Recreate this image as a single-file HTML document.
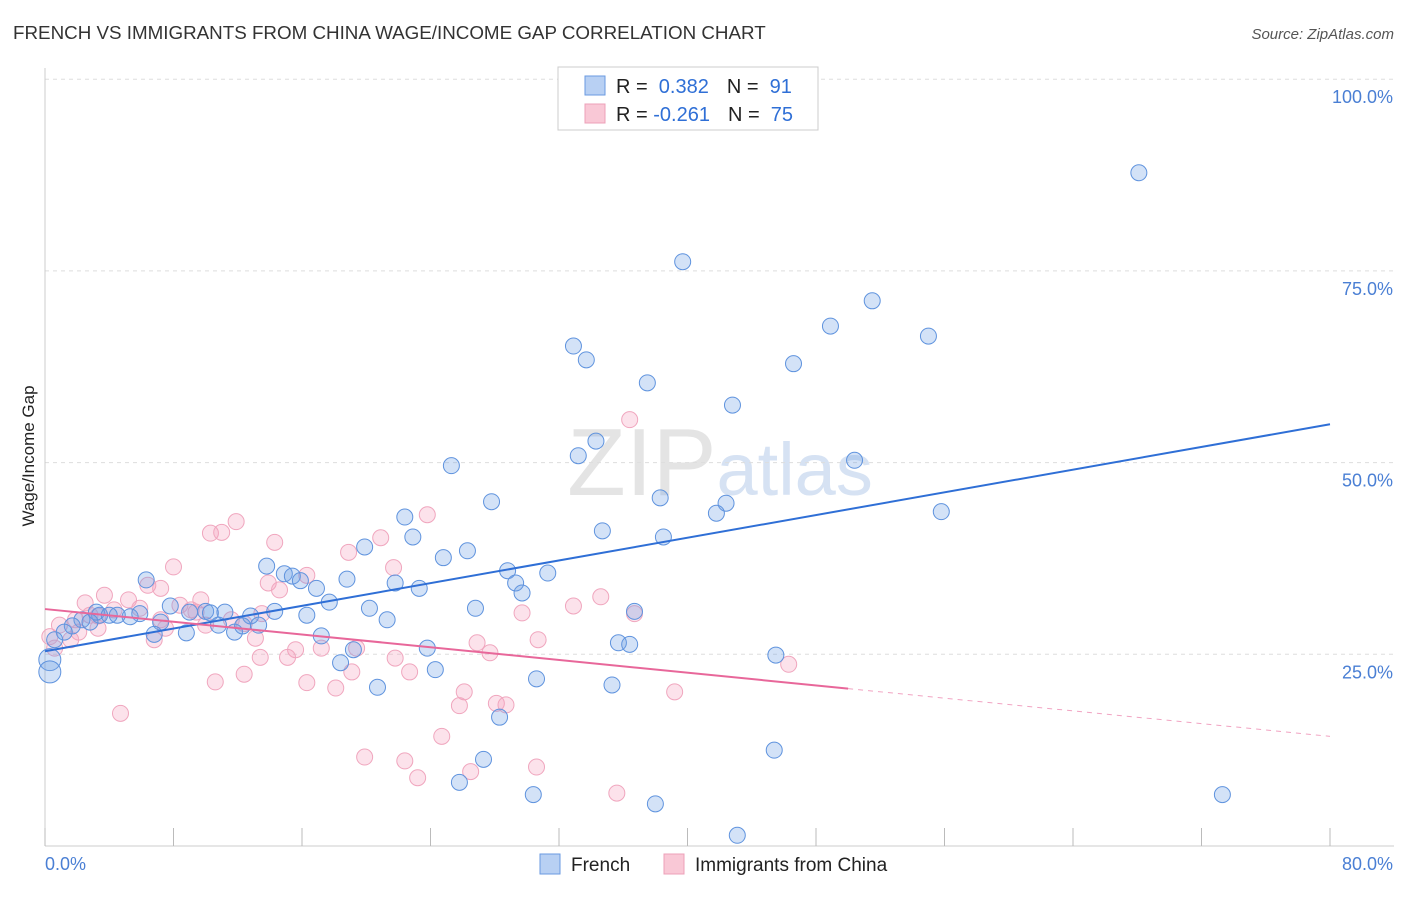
<!DOCTYPE html>
<html><head><meta charset="utf-8"><style>
body{margin:0;background:#fff;font-family:"Liberation Sans",sans-serif}
svg text{font-family:"Liberation Sans",sans-serif}
</style></head><body>
<svg id="c" width="1406" height="892">
<text x="13" y="39" font-size="18.8" fill="#333">FRENCH VS IMMIGRANTS FROM CHINA WAGE/INCOME GAP CORRELATION CHART</text>
<text x="1394" y="39" font-size="15" fill="#555" font-style="italic" text-anchor="end">Source: ZipAtlas.com</text>
<text x="720" y="495" font-size="96" fill="#e4e4e4" text-anchor="middle" font-family="Liberation Serif">ZIP<tspan fill="#d6e2f3" font-family="Liberation Sans" font-size="74">atlas</tspan></text>
<text transform="translate(34,456) rotate(-90)" font-size="17" fill="#222" text-anchor="middle">Wage/Income Gap</text>
<g id="grid"></g><g id="pts"></g><g id="lines"></g>
<g>
<rect x="558" y="67" width="260" height="63" fill="#fff" stroke="#ccc"/>
<rect x="585" y="76" width="20" height="19" fill="#b8d0f3" stroke="#6a9ae0"/>
<rect x="585" y="104" width="20" height="19" fill="#f9c8d6" stroke="#eda0b8"/>
<text x="616" y="93" font-size="20" fill="#222">R = <tspan fill="#2f6fd6">&#160;0.382</tspan><tspan dx="18">N = </tspan><tspan fill="#2f6fd6">&#160;91</tspan></text>
<text x="616" y="121" font-size="20" fill="#222">R = <tspan fill="#2f6fd6">-0.261</tspan><tspan dx="18">N = </tspan><tspan fill="#2f6fd6">&#160;75</tspan></text>
</g>
<g>
<rect x="540" y="854" width="20" height="20" fill="#b8d0f3" stroke="#6a9ae0"/>
<text x="571" y="871" font-size="19" fill="#222">French</text>
<rect x="664" y="854" width="20" height="20" fill="#f9c8d6" stroke="#eda0b8"/>
<text x="695" y="871" font-size="19" fill="#222">Immigrants from China</text>
</g>
<text x="45" y="870" font-size="18" fill="#4a7fd4">0.0%</text>
<text x="1393" y="870" font-size="18" fill="#4a7fd4" text-anchor="end">80.0%</text>
</svg>
<script>
const yTicks=[100,75,50,25];
const yTickLabels=["100.0%","75.0%","50.0%","25.0%"];
const frenchX=[68.1,39.7,51.5,48.9,55.0,32.9,33.7,46.6,37.5,42.8,34.3,33.2,25.3,50.4,38.3,42.4,41.8,55.8,27.8,22.4,34.7,22.9,38.5,19.9,26.3,24.8,13.8,6.3,14.9,15.4,15.9,16.9,18.8,28.8,31.3,29.3,29.7,21.8,23.3,17.7,20.2,26.8,36.7,16.3,21.3,7.8,10.0,10.3,11.2,12.8,14.3,9.0,5.9,5.3,4.5,3.4,3.2,2.3,1.7,1.2,0.6,0.3,0.3,7.2,6.8,8.8,10.8,11.8,13.3,12.3,17.2,19.2,23.8,18.4,24.3,20.7,30.6,35.3,35.7,36.4,45.5,28.3,27.3,25.8,30.4,38.0,45.4,43.1,73.3,4.0,2.8];
const frenchY=[87.8,76.2,71.1,67.8,66.5,65.2,63.4,62.9,60.4,57.5,52.8,50.9,49.6,50.3,45.4,44.7,43.4,43.6,44.9,42.9,41.1,40.3,40.3,39.0,38.5,37.6,36.5,34.7,35.5,35.2,34.6,33.6,34.8,35.9,35.6,34.3,33.0,34.3,33.6,31.8,31.0,31.0,30.6,30.1,29.5,31.3,30.6,30.4,30.5,30.0,30.6,30.5,30.3,29.9,30.1,30.1,30.5,29.5,28.7,27.9,26.9,24.3,22.7,29.2,27.6,27.8,28.8,27.9,28.8,28.7,27.4,25.6,25.8,23.9,23.0,20.7,21.8,21.0,26.5,26.3,24.9,16.8,11.3,8.3,6.7,5.5,12.5,1.4,6.7,30.1,29.2];
const chinaX=[36.4,11.9,10.3,11.0,23.8,20.9,14.3,18.9,8.0,21.7,16.3,13.9,14.6,6.4,7.2,3.7,5.2,9.7,2.5,5.9,4.3,8.4,9.1,9.4,3.3,2.8,1.9,3.3,0.9,0.3,0.6,1.6,11.6,10.0,12.4,13.5,34.6,32.9,29.7,36.7,7.2,7.5,13.1,17.2,15.6,19.4,26.9,27.7,30.7,13.4,15.1,22.7,21.8,19.1,16.3,18.1,12.4,10.6,26.1,25.8,28.1,28.7,39.2,46.3,4.7,24.7,19.9,22.4,23.2,26.5,30.6,35.6,6.8,2.1];
const chinaY=[55.6,42.3,40.8,40.9,43.2,40.2,39.6,38.3,36.4,36.3,35.3,34.3,33.4,34.0,33.6,32.7,32.1,32.1,31.7,31.0,30.8,31.4,30.8,30.5,30.0,30.1,29.5,28.4,28.8,27.3,25.8,26.9,29.5,28.8,29.0,30.3,32.5,31.3,30.4,30.3,29.5,28.4,27.1,25.8,25.6,25.8,26.5,25.2,26.9,24.6,24.6,22.7,24.5,22.7,21.3,20.6,22.4,21.4,20.1,18.3,18.6,18.4,20.1,23.7,17.3,14.3,11.6,11.1,8.9,9.7,10.3,6.9,26.9,27.9];
const frenchTrend=[25.4,55.0];
const chinaTrend=[30.9,14.3];
const chinaSolidEnd=50;
const X=v=>45+v*(1285/80), Y=v=>846-v*7.668;
const NS="http://www.w3.org/2000/svg";
function mk(t,a,p){const e=document.createElementNS(NS,t);for(const k in a)e.setAttribute(k,a[k]);p.appendChild(e);return e;}
const grid=document.getElementById('grid');
yTicks.forEach((t,i)=>{
 const l=mk('line',{x1:45,x2:1394,y1:Y(t),y2:Y(t),stroke:'#ddd','stroke-dasharray':'4,4'},grid);
 
 
 const tx=mk('text',{x:1393,y:Y(t)+24,'font-size':18,fill:'#4a7fd4','text-anchor':'end'},grid);
 tx.textContent=yTickLabels[i];
 
 
});
mk('line',{x1:45,x2:45,y1:68,y2:846,stroke:'#ccc'},grid);
mk('line',{x1:45,x2:1394,y1:846,y2:846,stroke:'#ccc'},grid);
for(let i=0;i<=10;i++){const l=mk('line',{x1:X(i*8),x2:X(i*8),y1:828,y2:846,stroke:'#bbb'},grid);
 
 }
const pts=document.getElementById('pts');
chinaX.forEach((x,i)=>{const c=mk('circle',{cx:X(x),cy:Y(chinaY[i]),r:8,fill:'rgba(244,160,188,0.3)',stroke:'#f0a6be','stroke-width':1},pts);
 
 });
frenchX.forEach((x,i)=>{const big=x<0.5&&frenchY[i]<25;const c=mk('circle',{cx:X(x),cy:Y(frenchY[i]),r:big?11:8,fill:'rgba(110,160,230,0.3)',stroke:'#5f93de','stroke-width':1},pts);
 
 });
const lines=document.getElementById('lines');
const fl=mk('line',{x1:X(0),y1:Y(frenchTrend[0]),x2:X(80),y2:Y(frenchTrend[1]),stroke:'#2f6fd6','stroke-width':2},lines);


const cm=chinaTrend[0]+(chinaTrend[1]-chinaTrend[0])*chinaSolidEnd/80;
const cl=mk('line',{x1:X(0),y1:Y(chinaTrend[0]),x2:X(chinaSolidEnd),y2:Y(cm),stroke:'#e8679a','stroke-width':2},lines);


const cd=mk('line',{x1:X(chinaSolidEnd),y1:Y(cm),x2:X(80),y2:Y(chinaTrend[1]),stroke:'#e8679a','stroke-width':1,'stroke-dasharray':'5,5',opacity:0.6},lines);


</script>
</body></html>
